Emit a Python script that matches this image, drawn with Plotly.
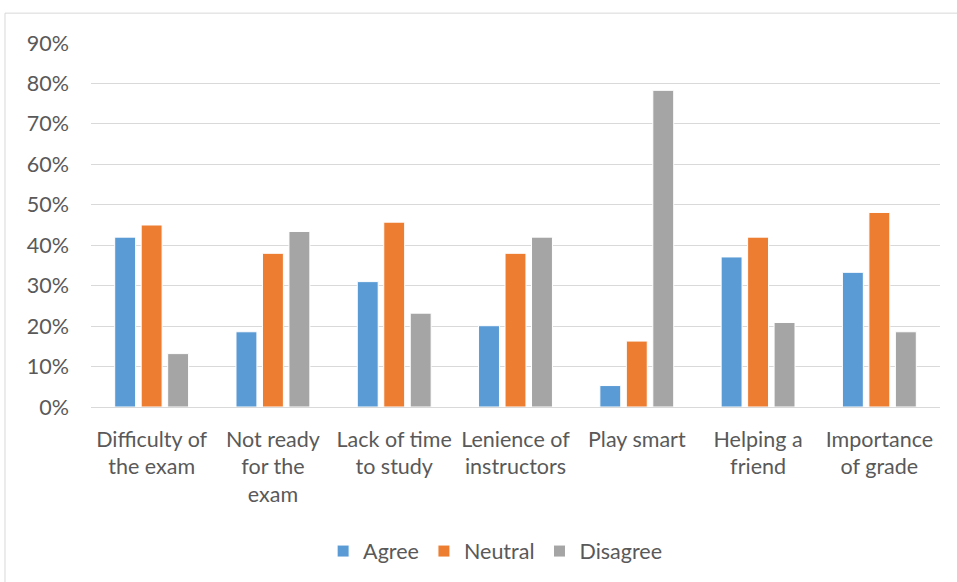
import plotly.graph_objects as go

categories = ["Difficulty of<br>the exam", "Not ready<br>for the<br>exam", "Lack of time<br>to study",
              "Lenience of<br>instructors", "Play smart", "Helping a<br>friend", "Importance<br>of grade"]
agree = [42.0, 18.6, 31.0, 20.1, 5.3, 37.1, 33.3]
neutral = [45.0, 38.0, 45.7, 38.0, 16.3, 42.0, 48.1]
disagree = [13.2, 43.4, 23.2, 42.0, 78.3, 20.9, 18.6]
y_ticks = list(range(0, 91, 10))
y_labels = [f"{v}%" for v in y_ticks]

FONT = "Lato, Liberation Sans, sans-serif"
TXT = "#595959"
FS = 21.5

fig = go.Figure()
for name, vals, col in [("Agree", agree, "#5B9BD5"), ("Neutral", neutral, "#ED7D31"),
                        ("Disagree", disagree, "#A5A5A5")]:
    fig.add_trace(go.Bar(x=categories, y=vals, name=name, marker_color=col,
                         marker_line_color="white", marker_line_width=1))

fig.update_layout(
    width=957, height=582,
    margin=dict(l=91, r=17, t=43, b=174),
    paper_bgcolor="white", plot_bgcolor="white",
    barmode="group", bargap=0.345, bargroupgap=0.21,
    font=dict(family=FONT, size=FS, color=TXT),
    showlegend=True,
    legend=dict(orientation="h", x=0.476, xanchor="center", y=-0.392, yanchor="middle",
                font=dict(size=FS, color=TXT), itemwidth=30, traceorder="normal",
                tracegroupgap=0),
    xaxis=dict(showgrid=False, showline=False, ticks="", tickfont=dict(size=FS, color=TXT),
               ticklabelstandoff=17, automargin=False),
    yaxis=dict(range=[0, 90], tickmode="array", tickvals=y_ticks, ticktext=y_labels,
               showgrid=True, gridcolor="#D9D9D9", gridwidth=1, zeroline=True,
               zerolinecolor="#D9D9D9", zerolinewidth=1, showline=False,
               tickfont=dict(size=FS, color=TXT), ticklabelstandoff=21, automargin=False),
    shapes=[dict(type="rect", xref="paper", yref="paper", x0=-0.1013, x1=1.03,
                 y0=-0.5, y1=1.082, line=dict(color="#D9D9D9", width=1),
                 fillcolor="rgba(0,0,0,0)", layer="below")],
)

fig.write_html("out.html", config={"displayModeBar": False},
               post_script="document.body.style.margin='0';")
